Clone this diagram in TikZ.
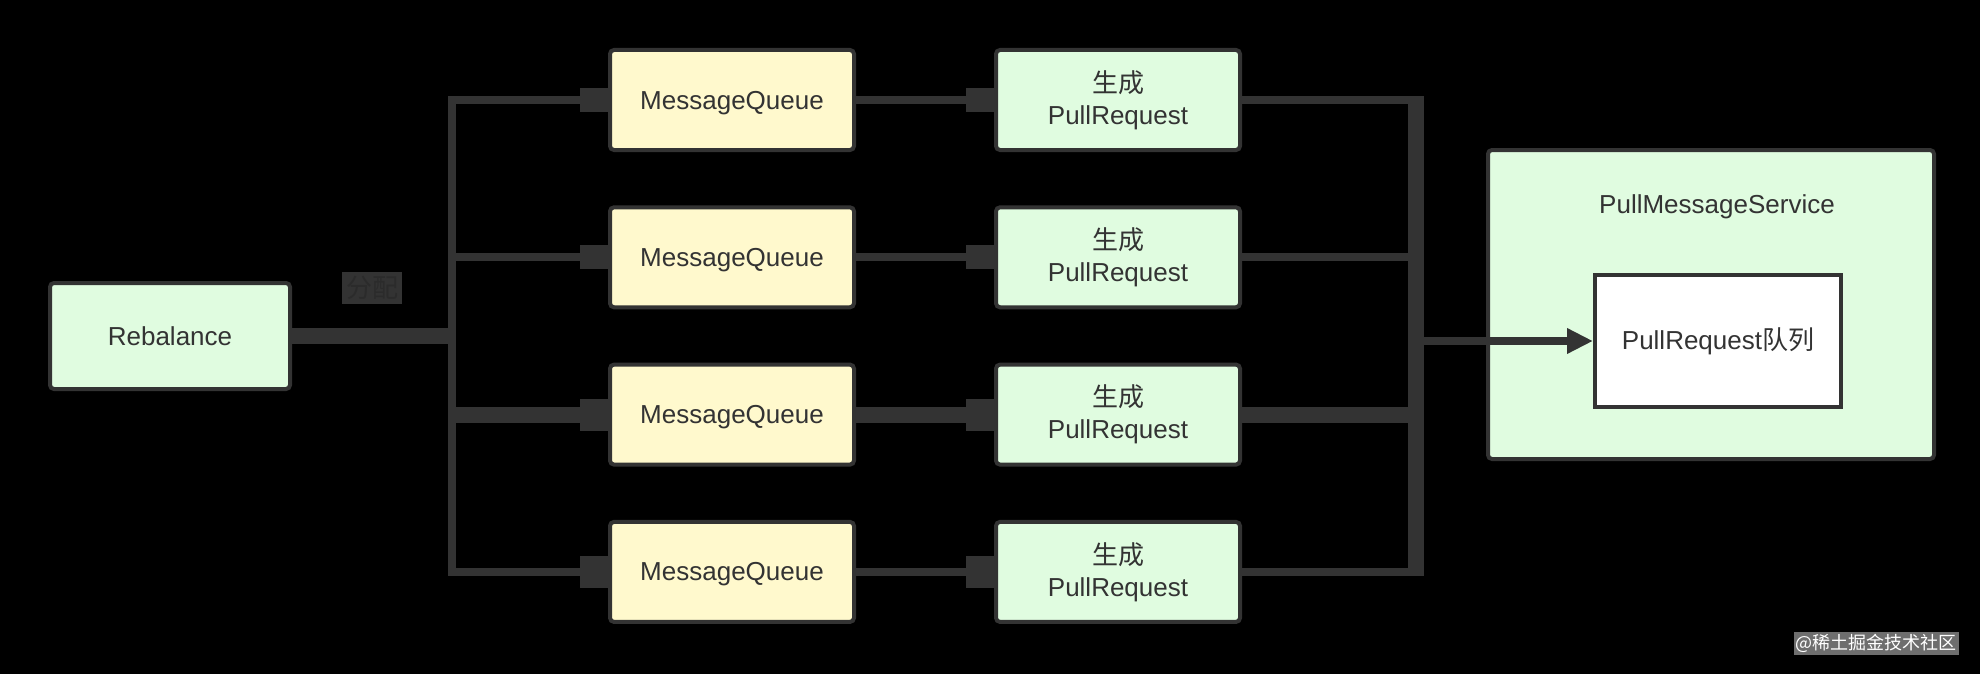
\documentclass[tikz,border=0pt]{standalone}
\usepackage{fontspec}
\setmainfont{Liberation Sans}
\newfontfamily\cjk{Noto Sans CJK SC}
\usepackage{tikz}
\usetikzlibrary{arrows.meta, positioning}

\definecolor{edgegray}{HTML}{333333}
\definecolor{labelink}{HTML}{2B2B2B}
\definecolor{mqyellow}{HTML}{FFF9CD}
\definecolor{prgreen}{HTML}{E0FCE0}
\definecolor{markgray}{HTML}{6E6E6E}

\begin{document}
\begin{tikzpicture}[
  x=0.5pt, y=-0.5pt,
  node distance=26.65pt and 69pt,
  box/.style={rectangle, draw=edgegray, line width=2pt, rounded corners=2pt, align=center, text=edgegray, font=\fontsize{13}{16}\selectfont, minimum width=122pt, minimum height=50pt, inner sep=0pt},
  queue/.style={box, fill=mqyellow, text depth=0pt},
  builder/.style={box, fill=prgreen},
  link/.style={draw=edgegray, line width=4pt},
  heavy/.style={draw=edgegray, line width=8pt},
  feed/.style={-{Rectangle[length=14pt,width=12pt]}},
  bigfeed/.style={-{Rectangle[length=14pt,width=16pt]}},
  arrow/.style={-{Triangle[length=13pt,width=12pt]}}
]

% Background
\useasboundingbox (0,0) rectangle (1980,674);
\fill[black] (0,0) rectangle (1980,674);

% Nodes
\node[builder, minimum width=120pt, minimum height=53pt] (rebalance) at (170,336) {Rebalance};
\node[fill=edgegray, text=labelink, font=\cjk\fontsize{13}{16}\selectfont, inner xsep=2pt, inner ysep=0pt, minimum height=16pt] (assign) at (372,288) {分配};

\node[queue] (mq1) at (732,100) {MessageQueue};
\node[queue, below=of mq1] (mq2) {MessageQueue};
\node[queue, below=of mq2] (mq3) {MessageQueue};
\node[queue, below=of mq3] (mq4) {MessageQueue};

\node[builder, right=of mq1] (pr1) {{\cjk 生成}\\PullRequest};
\node[builder, right=of mq2] (pr2) {{\cjk 生成}\\PullRequest};
\node[builder, right=of mq3] (pr3) {{\cjk 生成}\\PullRequest};
\node[builder, right=of mq4] (pr4) {{\cjk 生成}\\PullRequest};

\node[builder, minimum width=223pt, minimum height=154.5pt] (service) at (1711,304.5) {};
\node[text=edgegray, font=\fontsize{13}{16}\selectfont] (servicename) at (1717,207) {PullMessageService};
\node[box, fill=white, rounded corners=0pt, minimum width=123pt, minimum height=66pt] (prqueue) at (1718,341) {PullRequest{\cjk 队列}};

\node[fill=markgray, text=white, font=\cjk\fontsize{9}{11}\selectfont, inner sep=1pt, minimum height=11.5pt] (mark) at (1876,643.5) {@稀土掘金技术社区};

% Bus points
\coordinate (split) at (452,336);
\coordinate (splittop) at (452,96);
\coordinate (splitbot) at (452,576);
\coordinate (merge) at (1416,336);
\coordinate (mergetop) at (1416,96);
\coordinate (mergebot) at (1416,576);

% Arrows
\draw[heavy] (rebalance.east) -- (split);
\draw[link] (splittop) -- (splitbot);
\draw[link, feed] (split |- mq1) -- (mq1.west);
\draw[link, feed] (split |- mq2) -- (mq2.west);
\draw[heavy, bigfeed] (split |- mq3) -- (mq3.west);
\draw[link, bigfeed] (split |- mq4) -- (mq4.west);

\draw[link, feed] (mq1.east) -- (pr1.west);
\draw[link, feed] (mq2.east) -- (pr2.west);
\draw[heavy, bigfeed] (mq3.east) -- (pr3.west);
\draw[link, bigfeed] (mq4.east) -- (pr4.west);

\draw[link] (pr1.east) -- (merge |- pr1);
\draw[link] (pr2.east) -- (merge |- pr2);
\draw[heavy] (pr3.east) -- (merge |- pr3);
\draw[link] (pr4.east) -- (merge |- pr4);
\draw[heavy] (mergetop) -- (mergebot);

\draw[link, arrow] (merge |- prqueue) -- (prqueue.west);

\end{tikzpicture}
\end{document}
